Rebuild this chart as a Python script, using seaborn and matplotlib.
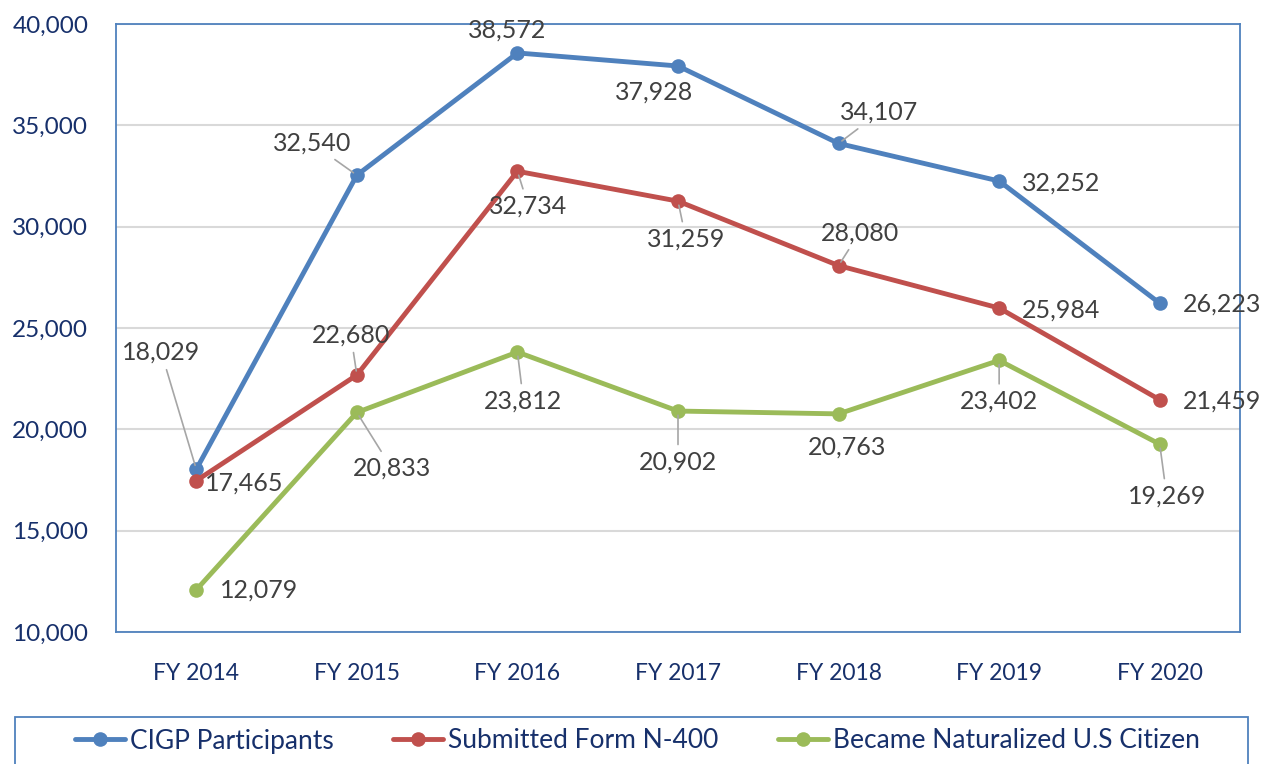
import numpy as np
import matplotlib.pyplot as plt
import seaborn as sns
import pandas as pd
from matplotlib.patches import Rectangle

sns.set_theme(style="white")
plt.rcParams['font.family'] = ['Lato', 'DejaVu Sans']

years = ["FY 2014", "FY 2015", "FY 2016", "FY 2017", "FY 2018", "FY 2019", "FY 2020"]
series_names = ["CIGP Participants", "Submitted Form N-400", "Became Naturalized U.S Citizen"]
cigp = [18029, 32540, 38572, 37928, 34107, 32252, 26223]
n400 = [17465, 22680, 32734, 31259, 28080, 25984, 21459]
naturalized = [12079, 20833, 23812, 20902, 20763, 23402, 19269]
colors = ["#4F81BD", "#C0504D", "#9BBB59"]
navy = "#17306B"

df = pd.DataFrame({
    "year": years * 3,
    "value": cigp + n400 + naturalized,
    "series": [s for s in series_names for _ in years],
})

# label offsets in pixels (dx, dy) and whether a leader line is drawn
offsets = {
    "CIGP Participants": [(-35, 117, True), (-45, 32, True), (-10, 23, False), (-24, -26, False),
                          (41, 31, True), (62, -2, False), (62, -1, False)],
    "Submitted Form N-400": [(48, -2, False), (-6, 40, True), (11, -35, True), (8, -38, True),
                             (21, 33, True), (62, -2, False), (62, -1, False)],
    "Became Naturalized U.S Citizen": [(63, 0, False), (35, -56, True), (6, -49, True),
                                       (0, -51, True), (8, -33, False), (0, -41, True),
                                       (7, -52, True)],
}

fig = plt.figure(figsize=(12.68, 7.64), dpi=100)
ax = fig.add_axes([116 / 1268, 1 - 632 / 764, 1124 / 1268, 608 / 764])

sns.lineplot(data=df, x="year", y="value", hue="series", palette=colors,
             marker="o", markersize=10.5, markeredgewidth=0, linewidth=3.5,
             sort=False, ax=ax, legend=True)

for name, vals in zip(series_names, [cigp, n400, naturalized]):
    for i, v in enumerate(vals):
        dx, dy, leader = offsets[name][i]
        ax.annotate(f"{v:,}", xy=(i, v), xytext=(dx, dy), textcoords="offset pixels",
                    ha="center", va="center", fontsize=18, color="#404040",
                    arrowprops=dict(arrowstyle="-", color="#A6A6A6", lw=1.2,
                                    shrinkA=2, shrinkB=3) if leader else None,
                    zorder=6, annotation_clip=False)

ax.set_xlim(-0.5, 6.5)
ax.set_ylim(10000, 40000)
ax.set_yticks(np.arange(10000, 40001, 5000))
ax.yaxis.set_major_formatter(plt.FuncFormatter(lambda v, p: f"{int(v):,}"))
ax.grid(axis="y", color="#D9D9D9", lw=1.5)
ax.set_axisbelow(True)
ax.set_xlabel("")
ax.set_ylabel("")
ax.tick_params(axis="y", labelsize=17.5, labelcolor=navy, length=0, pad=20)
ax.tick_params(axis="x", labelsize=16.5, labelcolor=navy, length=0, pad=22)
for sp in ax.spines.values():
    sp.set_color("#4F81BD")
    sp.set_linewidth(1.3)

handles, labels = ax.get_legend_handles_labels()
ax.get_legend().remove()
leg = fig.legend(handles, labels, loc="center left", ncol=3, mode="expand",
                 bbox_to_anchor=(75 / 1268, 1 - 741 / 764, 1125 / 1268, 0),
                 fontsize=19, frameon=False, handlelength=1.9, handletextpad=0.2,
                 borderpad=0, borderaxespad=0)
for t in leg.get_texts():
    t.set_color(navy)
fig.patches.append(Rectangle((15 / 1268, -0.02), 1233 / 1268, 1 - 717 / 764 + 0.02,
                             transform=fig.transFigure, fill=False,
                             edgecolor="#4F81BD", lw=1.3))

fig.savefig("out.png", dpi=100)
